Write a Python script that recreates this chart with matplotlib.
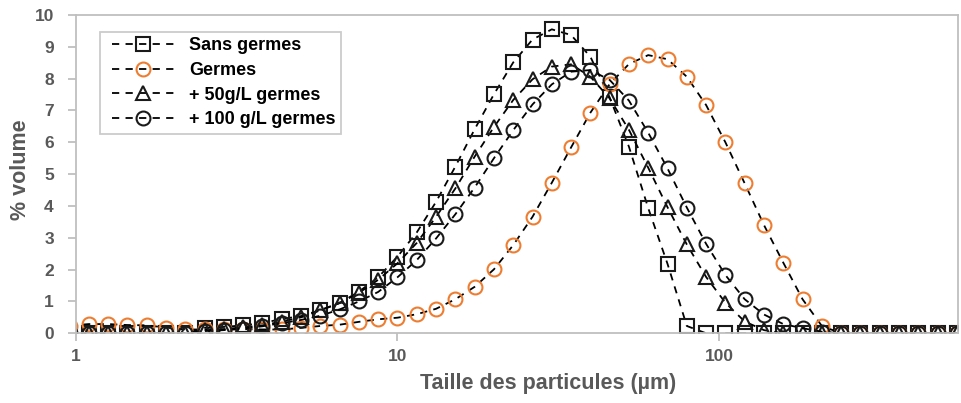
import matplotlib
matplotlib.use("Agg")
import matplotlib.pyplot as plt
from matplotlib.legend_handler import HandlerLine2D

plt.rcParams['font.family'] = ['Liberation Sans', 'DejaVu Sans']

sizes = [0.955, 1.096, 1.259, 1.445, 1.660, 1.905, 2.188, 2.512, 2.884, 3.311, 3.802,
         4.365, 5.012, 5.754, 6.607, 7.586, 8.710, 10.000, 11.482, 13.183, 15.136,
         17.378, 19.953, 22.909, 26.303, 30.200, 34.674, 39.811, 45.709, 52.481,
         60.256, 69.183, 79.433, 91.201, 104.713, 120.226, 138.038, 158.489, 181.970,
         208.930, 239.883, 275.423, 316.228, 363.078, 416.869, 478.630, 549.541]

sans_germes = [0.0, 0.0, 0.0, 0.0, 0.0, 0.0, 0.0, 0.17, 0.2, 0.25, 0.32,
               0.45, 0.54, 0.73, 0.95, 1.31, 1.76, 2.41, 3.17, 4.13, 5.24,
               6.41, 7.51, 8.51, 9.23, 9.55, 9.37, 8.69, 7.41, 5.86, 3.93,
               2.18, 0.23, 0.0, 0.0, 0.0, 0.0, 0.0, 0.0, 0.0, 0.0,
               0.0, 0.0, 0.0, 0.0, 0.0, 0.0]

germes = [0.24, 0.29, 0.29, 0.26, 0.25, 0.18, 0.12, 0.12, 0.12, 0.13, 0.12,
          0.12, 0.17, 0.23, 0.27, 0.36, 0.44, 0.49, 0.60, 0.77, 1.07,
          1.46, 2.01, 2.77, 3.66, 4.73, 5.84, 6.93, 7.83, 8.46, 8.74,
          8.61, 8.06, 7.17, 6.00, 4.71, 3.40, 2.22, 1.07, 0.23, 0.0,
          0.0, 0.0, 0.0, 0.0, 0.0, 0.0]

germes_50 = [0.0, 0.0, 0.0, 0.0, 0.0, 0.0, 0.0, 0.1, 0.13, 0.19, 0.25,
             0.37, 0.5, 0.72, 0.95, 1.27, 1.68, 2.2, 2.84, 3.66, 4.55,
             5.55, 6.48, 7.33, 7.98, 8.38, 8.45, 8.06, 7.38, 6.39, 5.2,
             3.96, 2.79, 1.77, 0.96, 0.37, 0.1, 0.0, 0.0, 0.0, 0.0,
             0.0, 0.0, 0.0, 0.0, 0.0, 0.0]

germes_100 = [0.0, 0.0, 0.0, 0.0, 0.0, 0.0, 0.0, 0.07, 0.1, 0.15, 0.22,
              0.32, 0.42, 0.55, 0.75, 1.0, 1.3, 1.76, 2.3, 2.98, 3.74,
              4.58, 5.5, 6.38, 7.19, 7.82, 8.22, 8.27, 7.96, 7.31, 6.3,
              5.18, 3.95, 2.81, 1.83, 1.07, 0.59, 0.29, 0.16, 0.05, 0.0,
              0.0, 0.0, 0.0, 0.0, 0.0, 0.0]

labels = ['Sans germes', 'Germes', '+ 50g/L germes', '+ 100 g/L germes']
series = [sans_germes, germes, germes_50, germes_100]
markers = ['s', 'o', '^', 'o']
mcolors = ['#1a1a1a', '#ED7D31', '#1a1a1a', '#1a1a1a']
msizes = [9.5, 10, 10, 10]

fig = plt.figure(figsize=(9.62, 4.03), dpi=100)
ax = fig.add_axes([76/962, 1 - 333.3/403, (958-76)/962, (333.3-15)/403])

handles = []
for y, lab, m, c, ms in zip(series, labels, markers, mcolors, msizes):
    ln, = ax.plot(sizes, y, linestyle=(0, (4, 3.5)), color='black', lw=1.3,
                  marker=m, markersize=ms, markerfacecolor='none',
                  markeredgecolor=c, markeredgewidth=1.5, label=lab)
    handles.append(ln)

ax.set_xscale('log')
ax.set_xlim(1, 554)
ax.set_ylim(0, 10)
ax.set_yticks(range(0, 11))
ax.set_xticks([1, 10, 100])
ax.set_xticklabels(['1', '10', '100'])
ax.minorticks_off()

gray = '#bfbfbf'
for s in ax.spines.values():
    s.set_color(gray)
    s.set_linewidth(1.3)
ax.tick_params(axis='both', colors=gray, length=6, width=1.3, direction='out',
               labelcolor='#595959', labelsize=12.5)
for t in ax.get_xticklabels() + ax.get_yticklabels():
    t.set_fontweight('bold')
ax.tick_params(axis='y', pad=10)
ax.tick_params(axis='x', pad=5)

ax.set_xlabel('Taille des particules (µm)', fontsize=15.5, fontweight='bold',
              color='#595959', va='top')
ax.xaxis.set_label_coords((548-76)/882, (333.3-373)/318.3)
ax.set_ylabel('% volume', fontsize=15.5, fontweight='bold', color='#595959')
ax.yaxis.set_label_coords((31-76)/882, (333.3-170)/318.3)

hmap = {h: HandlerLine2D(xpad=0.37) for h in handles}
leg = ax.legend(handles=handles, loc='upper left',
                bbox_to_anchor=((100-76)/882, (333.3-32)/318.3),
                prop={'weight': 'bold', 'size': 13}, handler_map=hmap,
                handlelength=3.8, handletextpad=0.83, labelspacing=0.42,
                borderpad=0.3, frameon=True, fancybox=False, borderaxespad=0)
leg.get_frame().set_edgecolor(gray)
leg.get_frame().set_linewidth(1.3)

fig.savefig('out.png', dpi=100)
